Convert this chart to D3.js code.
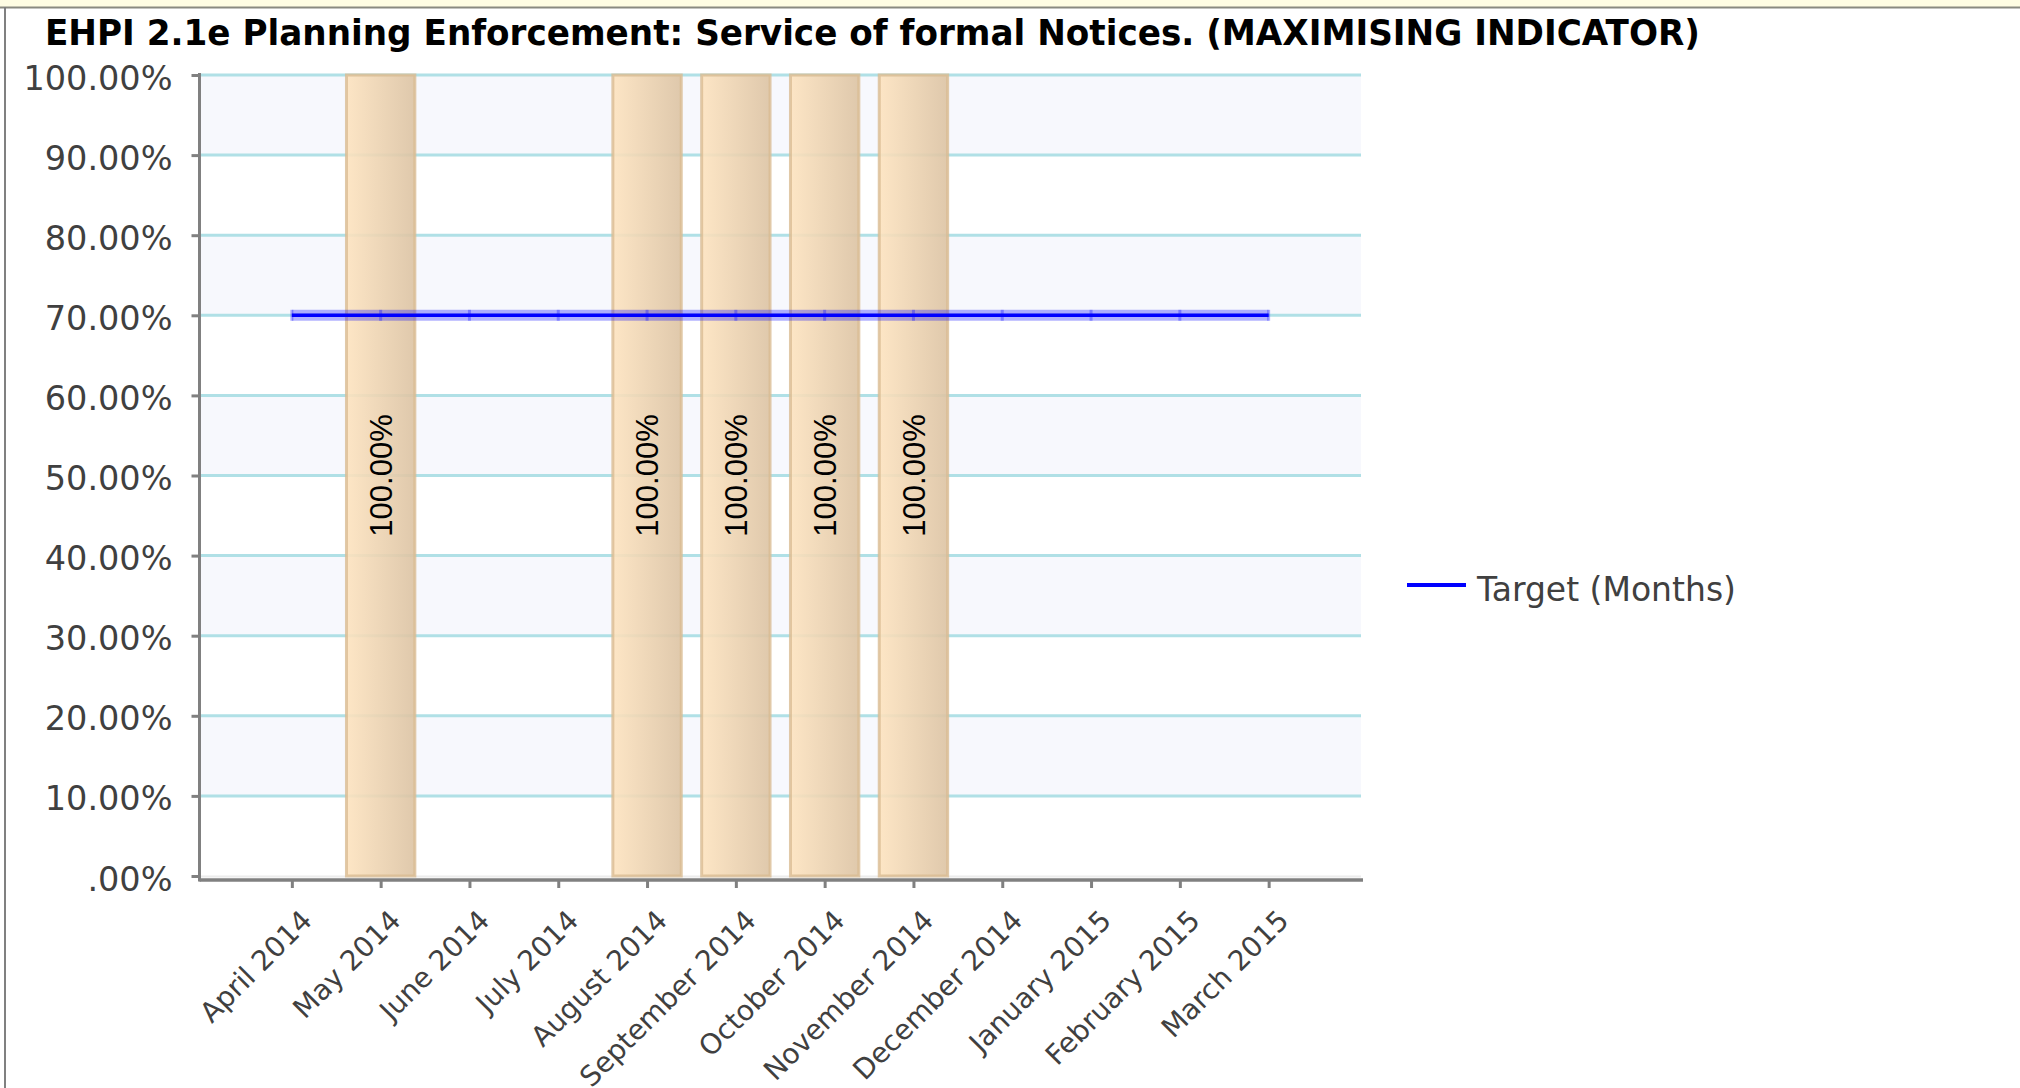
<!DOCTYPE html>
<html>
<head>
<meta charset="utf-8">
<script src="https://cdn.jsdelivr.net/npm/d3@7"></script>
<style>
  html, body { margin: 0; padding: 0; background: #ffffff; }
  svg { display: block; }
</style>
</head>
<body>
<svg id="chart" width="2020" height="1088"></svg>
<script>
// ---------------- DATA ----------------
const titleText = "EHPI 2.1e Planning Enforcement: Service of formal Notices. (MAXIMISING INDICATOR)";
const months = ["April 2014", "May 2014", "June 2014", "July 2014", "August 2014", "September 2014",
                "October 2014", "November 2014", "December 2014", "January 2015", "February 2015", "March 2015"];
const actualValues = [null, 1, null, null, 1, 1, 1, 1, null, null, null, null];
const targetValues = [0.7, 0.7, 0.7, 0.7, 0.7, 0.7, 0.7, 0.7, 0.7, 0.7, 0.7, 0.7];
const yTickValues = [0, 0.1, 0.2, 0.3, 0.4, 0.5, 0.6, 0.7, 0.8, 0.9, 1.0];
const yTickLabels = [".00%", "10.00%", "20.00%", "30.00%", "40.00%", "50.00%",
                     "60.00%", "70.00%", "80.00%", "90.00%", "100.00%"];
const legendLabel = "Target (Months)";

// ---------------- LAYOUT ----------------
const svg = d3.select("#chart");
const W = 2020, H = 1088;
const plot = { left: 199.5, right: 1361, top: 75, bottom: 876 };
const axisY = 880;

const x = d3.scalePoint().domain(months).range([plot.left, plot.right]).padding(1.04);
const y = d3.scaleLinear().domain([0, 1]).range([plot.bottom, plot.top]);
const barW = x.step() * 0.77;

// defs
const defs = svg.append("defs");
const grad = defs.append("linearGradient").attr("id", "barGrad")
  .attr("x1", "0").attr("x2", "1").attr("y1", "0").attr("y2", "0");
grad.append("stop").attr("offset", "0%").attr("stop-color", "#fde3bf");
grad.append("stop").attr("offset", "100%").attr("stop-color", "#dcc3a3");

// page background / frame
svg.append("rect").attr("x", 0).attr("y", 0).attr("width", W).attr("height", H).attr("fill", "#ffffff");
svg.append("rect").attr("x", 0).attr("y", 0).attr("width", W).attr("height", 7).attr("fill", "#fffde3");
svg.append("line").attr("x1", 0).attr("x2", W).attr("y1", 7.5).attr("y2", 7.5)
  .attr("stroke", "#8a8a80").attr("stroke-width", 2);
svg.append("line").attr("x1", 5).attr("x2", 5).attr("y1", 7).attr("y2", H)
  .attr("stroke", "#808080").attr("stroke-width", 2);

// title
svg.append("text")
  .attr("x", 45).attr("y", 45)
  .attr("font-family", "DejaVu Sans, Verdana, sans-serif")
  .attr("font-weight", "bold")
  .attr("font-size", 36)
  .attr("fill", "#000")
  .attr("textLength", 1655)
  .attr("lengthAdjust", "spacingAndGlyphs")
  .text(titleText);

// alternating bands
const bandPairs = d3.pairs(yTickValues);
svg.append("g").selectAll("rect").data(bandPairs).join("rect")
  .attr("x", plot.left + 1.5)
  .attr("width", plot.right - plot.left - 1.5)
  .attr("y", d => y(d[1]))
  .attr("height", d => y(d[0]) - y(d[1]))
  .attr("fill", (d, i) => (i % 2 === 1) ? "#f7f8fd" : "#ffffff");

// grid lines
svg.append("g").selectAll("line").data(yTickValues.filter(v => v > 0)).join("line")
  .attr("x1", plot.left + 1.5).attr("x2", plot.right)
  .attr("y1", d => y(d)).attr("y2", d => y(d))
  .attr("stroke", "#b0e0e6").attr("stroke-width", 3);

// floor line
svg.append("line").attr("x1", plot.left + 1.5).attr("x2", plot.right)
  .attr("y1", plot.bottom + 0.5).attr("y2", plot.bottom + 0.5)
  .attr("stroke", "#ececec").attr("stroke-width", 2);

// bars
const barData = months.map((m, i) => ({ m, v: actualValues[i] })).filter(d => d.v !== null);
svg.append("g").selectAll("rect").data(barData).join("rect")
  .attr("x", d => x(d.m) - barW / 2)
  .attr("width", barW)
  .attr("y", d => y(d.v))
  .attr("height", d => y(0) - y(d.v))
  .attr("fill", "url(#barGrad)")
  .attr("fill-opacity", 0.9)
  .attr("stroke", "#d9bb92")
  .attr("stroke-opacity", 0.8)
  .attr("stroke-width", 3);

// bar labels
const pctFmt = d3.format(".2%");
svg.append("g").selectAll("text").data(barData).join("text")
  .attr("transform", d => `translate(${x(d.m)},${y(d.v / 2)}) rotate(-90)`)
  .attr("text-anchor", "middle")
  .attr("dy", "0.36em")
  .attr("font-family", "Liberation Sans, Arial, sans-serif")
  .attr("font-size", 31)
  .attr("fill", "#000")
  .text(d => pctFmt(d.v));

// target line
const tData = months.map((m, i) => ({ m, v: targetValues[i] }));
const line = d3.line().x(d => x(d.m)).y(d => y(d.v));
svg.append("path").datum(tData).attr("d", line)
  .attr("fill", "none").attr("stroke", "rgba(0,0,255,0.3)").attr("stroke-width", 11);
svg.append("path").datum(tData).attr("d", line)
  .attr("fill", "none").attr("stroke", "#0000ff").attr("stroke-width", 3.5);
svg.append("g").selectAll("rect").data(tData).join("rect")
  .attr("x", d => x(d.m) - 1.5).attr("width", 3)
  .attr("y", d => y(d.v) - 5.5).attr("height", 11)
  .attr("fill", "rgba(0,0,255,0.3)");

// y axis
const yAxis = svg.append("g").attr("transform", `translate(${plot.left},0)`)
  .call(d3.axisLeft(y).tickValues(yTickValues)
    .tickFormat((d, i) => yTickLabels[i]).tickSize(8).tickPadding(19).tickSizeOuter(0));
yAxis.select(".domain").remove();
yAxis.selectAll(".tick line").attr("stroke", "#808080").attr("stroke-width", 3);
yAxis.selectAll(".tick text")
  .attr("font-family", "DejaVu Sans, Verdana, sans-serif")
  .attr("font-size", 33.5)
  .attr("fill", "#404040")
  .attr("dy", "0.42em");
svg.append("line").attr("x1", plot.left).attr("x2", plot.left)
  .attr("y1", plot.top - 2).attr("y2", axisY + 1.5)
  .attr("stroke", "#808080").attr("stroke-width", 3);

// x axis
const xAxis = svg.append("g").attr("transform", `translate(0,${axisY})`)
  .call(d3.axisBottom(x).tickSize(8).tickPadding(0).tickSizeOuter(0));
xAxis.select(".domain").remove();
xAxis.selectAll(".tick line").attr("stroke", "#808080").attr("stroke-width", 3);
xAxis.selectAll(".tick text")
  .attr("y", 0).attr("x", 0)
  .attr("dy", "0.72em")
  .attr("transform", "translate(7,28) rotate(-45)")
  .attr("text-anchor", "end")
  .attr("font-family", "DejaVu Sans, Verdana, sans-serif")
  .attr("font-size", 28)
  .attr("fill", "#404040");
svg.append("line").attr("x1", plot.left).attr("x2", plot.right + 2)
  .attr("y1", axisY).attr("y2", axisY)
  .attr("stroke", "#808080").attr("stroke-width", 3.5);

// legend
const lg = svg.append("g");
lg.append("line").attr("x1", 1407).attr("x2", 1466).attr("y1", 585).attr("y2", 585)
  .attr("stroke", "#0000ff").attr("stroke-width", 4);
lg.append("text").attr("x", 1477).attr("y", 601)
  .attr("font-family", "DejaVu Sans, Verdana, sans-serif")
  .attr("font-size", 33)
  .attr("fill", "#404040")
  .text(legendLabel);
</script>
</body>
</html>
